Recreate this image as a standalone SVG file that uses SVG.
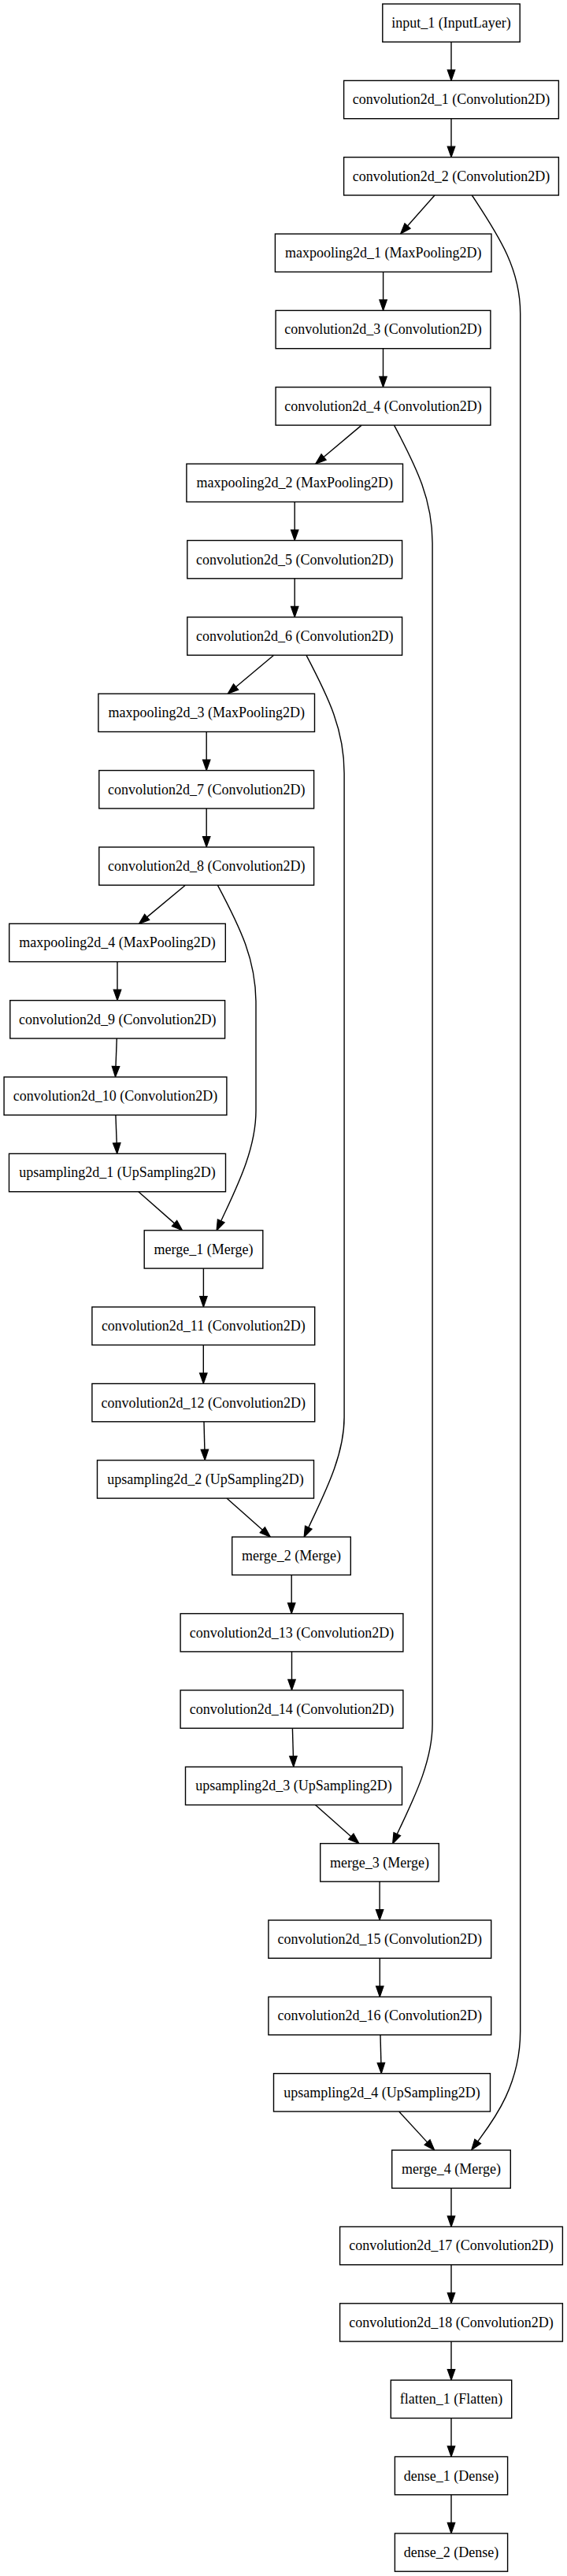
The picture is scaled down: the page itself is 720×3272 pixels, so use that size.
<svg xmlns="http://www.w3.org/2000/svg" width="720" height="3272" viewBox="0 0 720 3272">
<style>
.n rect{fill:#fff;stroke:#000;stroke-width:1.4}
.n text{font-family:"Liberation Serif","Times New Roman",serif;font-size:18px;fill:#000;text-anchor:middle}
.e path{fill:none;stroke:#000;stroke-width:1.4;marker-end:url(#ah)}
</style>
<defs>
<marker id="ah" markerUnits="userSpaceOnUse" markerWidth="13.5" markerHeight="9.5" viewBox="0 0 13.5 9.5" refX="0" refY="4.75" orient="auto" overflow="visible">
<path d="M0,0 L13.5,4.75 L0,9.5 z" fill="#000" stroke="#000" stroke-width="1.2"/>
</marker>
</defs>
<rect width="720" height="3272" fill="#fff"/>
<g id="edges" class="e">
<path d="M573,53.3 V88.9"/>
<path d="M573,150.7 V186.2"/>
<path d="M552,248 L517.5,287"/>
<path d="M599.3,248 C636.1,303.3 660.7,343.3 660.7,398.3 V2580 C660.7,2650 625,2695 606.7,2720"/>
<path d="M486.6,345.4 V380.9"/>
<path d="M486.5,442.7 V478.3"/>
<path d="M459.1,540.1 L411.1,580.5"/>
<path d="M500.5,540.1 C529.7,595.1 549.1,635.1 549.1,690.1 V2189.6 C549.1,2239.6 523.3,2288.6 504.3,2329.6"/>
<path d="M374.2,637.5 V673"/>
<path d="M374.2,734.8 V770.4"/>
<path d="M347.6,832.2 L299.6,872.5"/>
<path d="M388.9,832.2 C417.8,887.2 437.1,927.2 437.1,982.2 V1800.2 C437.1,1850.2 410.8,1899.2 391.8,1940.2"/>
<path d="M262.2,929.5 V965.1"/>
<path d="M262.2,1026.9 V1062.5"/>
<path d="M235.5,1124.3 L186.7,1164.9"/>
<path d="M276.4,1124.3 C305.6,1179.3 325,1219.3 325,1274.3 V1410.8 C325,1460.8 299.7,1509.8 280.7,1550.8"/>
<path d="M149,1221.6 V1257.2"/>
<path d="M148.3,1319 L147,1354.5"/>
<path d="M146.9,1416.3 L148.2,1451.9"/>
<path d="M175.9,1513.7 L221.5,1553.9"/>
<path d="M258.4,1611.1 V1646.6"/>
<path d="M258.3,1708.4 V1744"/>
<path d="M259,1805.8 L259.9,1841.3"/>
<path d="M287.9,1903.1 L333.3,1943.3"/>
<path d="M370.2,2000.5 V2036.1"/>
<path d="M370.5,2097.9 V2133.4"/>
<path d="M371.4,2195.2 L372.4,2230.8"/>
<path d="M400.4,2292.6 L445.8,2332.7"/>
<path d="M482.1,2389.9 V2425.5"/>
<path d="M482.3,2487.3 V2522.9"/>
<path d="M483,2584.7 L483.9,2620.2"/>
<path d="M506.7,2682 L542.6,2721.1"/>
<path d="M573,2779.4 V2814.9"/>
<path d="M573,2876.7 V2912.3"/>
<path d="M573,2974.1 V3009.7"/>
<path d="M573,3071.5 V3107"/>
<path d="M573,3168.8 V3204.4"/>
</g>
<g id="input_1" class="n"><rect x="485.8" y="5" width="174.4" height="48.3"/><text x="573" y="35">input_1 (InputLayer)</text></g>
<g id="convolution2d_1" class="n"><rect x="436.6" y="102.4" width="272.8" height="48.3"/><text x="573" y="132.4">convolution2d_1 (Convolution2D)</text></g>
<g id="convolution2d_2" class="n"><rect x="436.6" y="199.7" width="272.8" height="48.3"/><text x="573" y="229.7">convolution2d_2 (Convolution2D)</text></g>
<g id="maxpooling2d_1" class="n"><rect x="349.4" y="297.1" width="274.6" height="48.3"/><text x="486.7" y="327.1">maxpooling2d_1 (MaxPooling2D)</text></g>
<g id="convolution2d_3" class="n"><rect x="350.1" y="394.4" width="272.8" height="48.3"/><text x="486.5" y="424.4">convolution2d_3 (Convolution2D)</text></g>
<g id="convolution2d_4" class="n"><rect x="350.1" y="491.8" width="272.8" height="48.3"/><text x="486.5" y="521.8">convolution2d_4 (Convolution2D)</text></g>
<g id="maxpooling2d_2" class="n"><rect x="236.9" y="589.2" width="274.6" height="48.3"/><text x="374.2" y="619.2">maxpooling2d_2 (MaxPooling2D)</text></g>
<g id="convolution2d_5" class="n"><rect x="237.8" y="686.5" width="272.8" height="48.3"/><text x="374.2" y="716.5">convolution2d_5 (Convolution2D)</text></g>
<g id="convolution2d_6" class="n"><rect x="237.8" y="783.9" width="272.8" height="48.3"/><text x="374.2" y="813.9">convolution2d_6 (Convolution2D)</text></g>
<g id="maxpooling2d_3" class="n"><rect x="124.9" y="881.2" width="274.6" height="48.3"/><text x="262.2" y="911.2">maxpooling2d_3 (MaxPooling2D)</text></g>
<g id="convolution2d_7" class="n"><rect x="125.8" y="978.6" width="272.8" height="48.3"/><text x="262.2" y="1008.6">convolution2d_7 (Convolution2D)</text></g>
<g id="convolution2d_8" class="n"><rect x="125.8" y="1076" width="272.8" height="48.3"/><text x="262.2" y="1106">convolution2d_8 (Convolution2D)</text></g>
<g id="maxpooling2d_4" class="n"><rect x="11.7" y="1173.3" width="274.6" height="48.3"/><text x="149" y="1203.3">maxpooling2d_4 (MaxPooling2D)</text></g>
<g id="convolution2d_9" class="n"><rect x="12.8" y="1270.7" width="272.8" height="48.3"/><text x="149.2" y="1300.7">convolution2d_9 (Convolution2D)</text></g>
<g id="convolution2d_10" class="n"><rect x="5.1" y="1368" width="282.8" height="48.3"/><text x="146.5" y="1398">convolution2d_10 (Convolution2D)</text></g>
<g id="upsampling2d_1" class="n"><rect x="11.5" y="1465.4" width="275" height="48.3"/><text x="149" y="1495.4">upsampling2d_1 (UpSampling2D)</text></g>
<g id="merge_1" class="n"><rect x="183.2" y="1562.8" width="150.6" height="48.3"/><text x="258.5" y="1592.8">merge_1 (Merge)</text></g>
<g id="convolution2d_11" class="n"><rect x="116.9" y="1660.1" width="282.8" height="48.3"/><text x="258.3" y="1690.1">convolution2d_11 (Convolution2D)</text></g>
<g id="convolution2d_12" class="n"><rect x="116.9" y="1757.5" width="282.8" height="48.3"/><text x="258.3" y="1787.5">convolution2d_12 (Convolution2D)</text></g>
<g id="upsampling2d_2" class="n"><rect x="123.5" y="1854.8" width="275" height="48.3"/><text x="261" y="1884.8">upsampling2d_2 (UpSampling2D)</text></g>
<g id="merge_2" class="n"><rect x="294.7" y="1952.2" width="150.6" height="48.3"/><text x="370" y="1982.2">merge_2 (Merge)</text></g>
<g id="convolution2d_13" class="n"><rect x="229.1" y="2049.6" width="282.8" height="48.3"/><text x="370.5" y="2079.6">convolution2d_13 (Convolution2D)</text></g>
<g id="convolution2d_14" class="n"><rect x="229.1" y="2146.9" width="282.8" height="48.3"/><text x="370.5" y="2176.9">convolution2d_14 (Convolution2D)</text></g>
<g id="upsampling2d_3" class="n"><rect x="235.5" y="2244.3" width="275" height="48.3"/><text x="373" y="2274.3">upsampling2d_3 (UpSampling2D)</text></g>
<g id="merge_3" class="n"><rect x="406.7" y="2341.6" width="150.6" height="48.3"/><text x="482" y="2371.6">merge_3 (Merge)</text></g>
<g id="convolution2d_15" class="n"><rect x="340.9" y="2439" width="282.8" height="48.3"/><text x="482.3" y="2469">convolution2d_15 (Convolution2D)</text></g>
<g id="convolution2d_16" class="n"><rect x="340.9" y="2536.4" width="282.8" height="48.3"/><text x="482.3" y="2566.4">convolution2d_16 (Convolution2D)</text></g>
<g id="upsampling2d_4" class="n"><rect x="347.5" y="2633.7" width="275" height="48.3"/><text x="485" y="2663.7">upsampling2d_4 (UpSampling2D)</text></g>
<g id="merge_4" class="n"><rect x="497.7" y="2731.1" width="150.6" height="48.3"/><text x="573" y="2761.1">merge_4 (Merge)</text></g>
<g id="convolution2d_17" class="n"><rect x="431.6" y="2828.4" width="282.8" height="48.3"/><text x="573" y="2858.4">convolution2d_17 (Convolution2D)</text></g>
<g id="convolution2d_18" class="n"><rect x="431.6" y="2925.8" width="282.8" height="48.3"/><text x="573" y="2955.8">convolution2d_18 (Convolution2D)</text></g>
<g id="flatten_1" class="n"><rect x="496.3" y="3023.2" width="153.4" height="48.3"/><text x="573" y="3053.2">flatten_1 (Flatten)</text></g>
<g id="dense_1" class="n"><rect x="501.4" y="3120.5" width="143.2" height="48.3"/><text x="573" y="3150.5">dense_1 (Dense)</text></g>
<g id="dense_2" class="n"><rect x="501.4" y="3217.9" width="143.2" height="48.3"/><text x="573" y="3247.9">dense_2 (Dense)</text></g>
</svg>
